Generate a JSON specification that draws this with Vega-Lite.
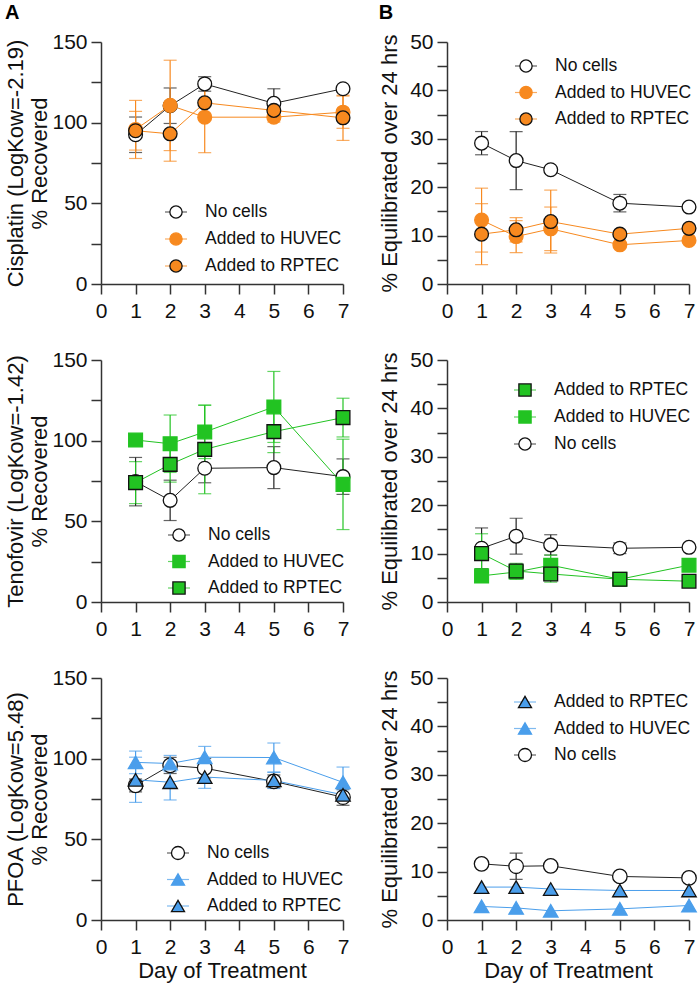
{
"$schema": "https://vega.github.io/schema/vega-lite/v6.json",
"padding": {"left": 4, "top": 3, "right": 4, "bottom": 5},
"datasets": {
"c_rec": [
{"series":"No cells","day":1,"mean":92.5,"err":11},{"series":"No cells","day":2,"mean":110.5,"err":11},{"series":"No cells","day":3,"mean":124,"err":4.5},{"series":"No cells","day":5,"mean":112,"err":9},{"series":"No cells","day":7,"mean":121,"err":0},
{"series":"Added to HUVEC","day":1,"mean":95.8,"err":18},{"series":"Added to HUVEC","day":2,"mean":110.7,"err":28},{"series":"Added to HUVEC","day":3,"mean":103.4,"err":22},{"series":"Added to HUVEC","day":5,"mean":103.4,"err":3},{"series":"Added to HUVEC","day":7,"mean":106.5,"err":10},
{"series":"Added to RPTEC","day":1,"mean":95,"err":12},{"series":"Added to RPTEC","day":2,"mean":93.1,"err":17},{"series":"Added to RPTEC","day":3,"mean":112.3,"err":11},{"series":"Added to RPTEC","day":5,"mean":107.6,"err":4},{"series":"Added to RPTEC","day":7,"mean":103,"err":14}
],
"c_eq": [
{"series":"No cells","day":1,"mean":29.1,"err":2.4},{"series":"No cells","day":2,"mean":25.5,"err":6},{"series":"No cells","day":3,"mean":23.6,"err":0},{"series":"No cells","day":5,"mean":16.7,"err":1.8},{"series":"No cells","day":7,"mean":15.9,"err":0},
{"series":"Added to HUVEC","day":1,"mean":13.2,"err":6.6},{"series":"Added to HUVEC","day":2,"mean":9.8,"err":3.3},{"series":"Added to HUVEC","day":3,"mean":11.4,"err":4.5},{"series":"Added to HUVEC","day":5,"mean":8.1,"err":0},{"series":"Added to HUVEC","day":7,"mean":9.0,"err":0},
{"series":"Added to RPTEC","day":1,"mean":10.3,"err":6.3},{"series":"Added to RPTEC","day":2,"mean":11.2,"err":2.5},{"series":"Added to RPTEC","day":3,"mean":12.9,"err":6.5},{"series":"Added to RPTEC","day":5,"mean":10.3,"err":0},{"series":"Added to RPTEC","day":7,"mean":11.5,"err":0}
],
"t_rec": [
{"series":"No cells","day":1,"mean":74.6,"err":15},{"series":"No cells","day":2,"mean":63,"err":12.5},{"series":"No cells","day":3,"mean":82.9,"err":9},{"series":"No cells","day":5,"mean":83.3,"err":13},{"series":"No cells","day":7,"mean":77.7,"err":11},
{"series":"Added to HUVEC","day":1,"mean":100.4,"err":0},{"series":"Added to HUVEC","day":2,"mean":98.1,"err":17.8},{"series":"Added to HUVEC","day":3,"mean":105.4,"err":16.5},{"series":"Added to HUVEC","day":5,"mean":120.9,"err":22},{"series":"Added to HUVEC","day":7,"mean":72.9,"err":28},
{"series":"Added to RPTEC","day":1,"mean":74,"err":13},{"series":"Added to RPTEC","day":2,"mean":85.3,"err":11},{"series":"Added to RPTEC","day":3,"mean":94.6,"err":27.5},{"series":"Added to RPTEC","day":5,"mean":105.6,"err":13},{"series":"Added to RPTEC","day":7,"mean":114.3,"err":12}
],
"t_eq": [
{"series":"No cells","day":1,"mean":11.1,"err":4.2},{"series":"No cells","day":2,"mean":13.6,"err":3.7},{"series":"No cells","day":3,"mean":11.8,"err":2.1},{"series":"No cells","day":5,"mean":11.1,"err":1.1},{"series":"No cells","day":7,"mean":11.3,"err":0},
{"series":"Added to HUVEC","day":1,"mean":5.4,"err":1.2},{"series":"Added to HUVEC","day":2,"mean":6.2,"err":1.5},{"series":"Added to HUVEC","day":3,"mean":7.6,"err":2.1},{"series":"Added to HUVEC","day":5,"mean":4.7,"err":0},{"series":"Added to HUVEC","day":7,"mean":7.6,"err":0},
{"series":"Added to RPTEC","day":1,"mean":10.0,"err":4.1},{"series":"Added to RPTEC","day":2,"mean":6.4,"err":1.6},{"series":"Added to RPTEC","day":3,"mean":5.8,"err":1.7},{"series":"Added to RPTEC","day":5,"mean":4.7,"err":0},{"series":"Added to RPTEC","day":7,"mean":4.3,"err":0}
],
"p_rec": [
{"series":"No cells","day":1,"mean":83.4,"err":4},{"series":"No cells","day":2,"mean":95.8,"err":5},{"series":"No cells","day":3,"mean":94.1,"err":6},{"series":"No cells","day":5,"mean":85.9,"err":4},{"series":"No cells","day":7,"mean":76.1,"err":5},
{"series":"Added to HUVEC","day":1,"mean":97.7,"err":7},{"series":"Added to HUVEC","day":2,"mean":97,"err":5},{"series":"Added to HUVEC","day":3,"mean":100.9,"err":6.7},{"series":"Added to HUVEC","day":5,"mean":100.7,"err":9},{"series":"Added to HUVEC","day":7,"mean":85.3,"err":9.5},
{"series":"Added to RPTEC","day":1,"mean":86.9,"err":14},{"series":"Added to RPTEC","day":2,"mean":85.4,"err":11},{"series":"Added to RPTEC","day":3,"mean":88.6,"err":7},{"series":"Added to RPTEC","day":5,"mean":86.5,"err":5},{"series":"Added to RPTEC","day":7,"mean":77.6,"err":3}
],
"p_eq": [
{"series":"No cells","day":1,"mean":11.6,"err":0},{"series":"No cells","day":2,"mean":11.1,"err":2.7},{"series":"No cells","day":3,"mean":11.2,"err":0},{"series":"No cells","day":5,"mean":9.0,"err":0},{"series":"No cells","day":7,"mean":8.7,"err":0},
{"series":"Added to HUVEC","day":1,"mean":2.8,"err":0},{"series":"Added to HUVEC","day":2,"mean":2.5,"err":0},{"series":"Added to HUVEC","day":3,"mean":1.9,"err":0},{"series":"Added to HUVEC","day":5,"mean":2.3,"err":0},{"series":"Added to HUVEC","day":7,"mean":3.0,"err":0},
{"series":"Added to RPTEC","day":1,"mean":6.8,"err":0},{"series":"Added to RPTEC","day":2,"mean":6.8,"err":0},{"series":"Added to RPTEC","day":3,"mean":6.4,"err":0},{"series":"Added to RPTEC","day":5,"mean":6.1,"err":0},{"series":"Added to RPTEC","day":7,"mean":6.1,"err":0}
]
},
"columns": 2,
"spacing": {"row": 76, "column": 104},
"bounds": "flush",
"concat": [
{
"width": 242, "height": 242,
"title": {"text": "A", "anchor": "start", "frame": "bounds", "fontSize": 20, "fontWeight": "bold", "color": "#000", "offset": 8},
"data": {"name": "c_rec"},
"encoding": {
"x": {"field": "day", "type": "quantitative", "scale": {"domain": [0, 7], "nice": false}, "axis": {"values": [0,1,2,3,4,5,6,7], "title": null}},
"y": {"field": "mean", "type": "quantitative", "scale": {"domain": [0, 150], "nice": false}, "axis": {"values": [0,25,50,75,100,125,150], "labelExpr": "datum.value % 50 === 0 ? datum.label : ''", "title": ["Cisplatin (LogKow=-2.19)", "% Recovered"], "titlePadding": 0}}
},
"layer": [
{"data": {"values": [{}]}, "mark": {"type": "rule", "color": "#E04040", "strokeWidth": 2.5, "strokeDash": [7, 5]}, "encoding": {"x": {"datum": 0}, "x2": {"datum": 7}, "y": {"datum": 100}}},
{"transform": [{"filter": "datum.err > 0"}], "mark": {"type": "errorbar", "ticks": true, "size": 13, "thickness": 1.2}, "encoding": {"yError": {"field": "err"}, "color": {"field": "series", "type": "nominal", "scale": {"domain": ["Added to RPTEC","Added to HUVEC","No cells"], "range": ["#F7891F","#F7891F","#222222"]}}}},
{"mark": {"type": "line", "strokeWidth": 1}, "encoding": {"color": {"field": "series", "type": "nominal", "scale": {"domain": ["Added to RPTEC","Added to HUVEC","No cells"], "range": ["#F7891F","#F7891F","#222222"]}, "legend": {"values": ["No cells","Added to HUVEC","Added to RPTEC"], "orient": "none", "legendX": 63, "legendY": 160, "title": null, "symbolType": "stroke", "symbolSize": 484, "symbolStrokeWidth": 1.2, "labelOffset": 17, "labelFontSize": 17.5, "clipHeight": 20, "rowPadding": 7, "padding": 0}}}},
{"mark": {"type": "point", "filled": true, "opacity": 1, "size": 190, "strokeWidth": 1.3}, "encoding": {
"shape": {"field": "series", "type": "nominal", "scale": {"domain": ["No cells","Added to HUVEC","Added to RPTEC"], "range": ["circle","circle","circle"]}, "legend": {"orient": "none", "legendX": 66.25, "legendY": 160, "title": null, "symbolSize": 150, "symbolStrokeWidth": 1.3, "labelExpr": "''", "labelFontSize": 17.5, "clipHeight": 20, "rowPadding": 7, "padding": 0}},
"fill": {"field": "series", "type": "nominal", "scale": {"domain": ["No cells","Added to HUVEC","Added to RPTEC"], "range": ["#FFFFFF","#F7891F","#F7891F"]}, "legend": {"orient": "none", "legendX": 66.25, "legendY": 160, "title": null, "symbolSize": 150, "symbolStrokeWidth": 1.3, "labelExpr": "''", "labelFontSize": 17.5, "clipHeight": 20, "rowPadding": 7, "padding": 0}},
"stroke": {"field": "series", "type": "nominal", "scale": {"domain": ["No cells","Added to HUVEC","Added to RPTEC"], "range": ["#111111","#F7891F","#111111"]}, "legend": {"orient": "none", "legendX": 66.25, "legendY": 160, "title": null, "symbolSize": 150, "symbolStrokeWidth": 1.3, "labelExpr": "''", "labelFontSize": 17.5, "clipHeight": 20, "rowPadding": 7, "padding": 0}}
}}
]
},
{
"width": 242, "height": 242,
"title": {"text": "B", "anchor": "start", "frame": "bounds", "fontSize": 20, "fontWeight": "bold", "color": "#000", "offset": 8},
"data": {"name": "c_eq"},
"encoding": {
"x": {"field": "day", "type": "quantitative", "scale": {"domain": [0, 7], "nice": false}, "axis": {"values": [0,1,2,3,4,5,6,7], "title": null}},
"y": {"field": "mean", "type": "quantitative", "scale": {"domain": [0, 50], "nice": false}, "axis": {"values": [0,5,10,15,20,25,30,35,40,45,50], "labelExpr": "datum.value % 10 === 0 ? datum.label : ''", "title": "% Equilibrated over 24 hrs", "titlePadding": 8}}
},
"layer": [
{"data": {"values": [{}]}, "mark": {"type": "rule", "color": "#E04040", "strokeWidth": 2.5, "strokeDash": [7, 5]}, "encoding": {"x": {"datum": 0}, "x2": {"datum": 7}, "y": {"datum": 50}}},
{"transform": [{"filter": "datum.err > 0"}], "mark": {"type": "errorbar", "ticks": true, "size": 13, "thickness": 1.2}, "encoding": {"yError": {"field": "err"}, "color": {"field": "series", "type": "nominal", "scale": {"domain": ["Added to RPTEC","Added to HUVEC","No cells"], "range": ["#F7891F","#F7891F","#222222"]}}}},
{"mark": {"type": "line", "strokeWidth": 1}, "encoding": {"color": {"field": "series", "type": "nominal", "scale": {"domain": ["Added to RPTEC","Added to HUVEC","No cells"], "range": ["#F7891F","#F7891F","#222222"]}, "legend": {"values": ["No cells","Added to HUVEC","Added to RPTEC"], "orient": "none", "legendX": 67, "legendY": 14, "title": null, "symbolType": "stroke", "symbolSize": 484, "symbolStrokeWidth": 1.2, "labelOffset": 17, "labelFontSize": 17.5, "clipHeight": 20, "rowPadding": 6.5, "padding": 0}}}},
{"mark": {"type": "point", "filled": true, "opacity": 1, "size": 190, "strokeWidth": 1.3}, "encoding": {
"shape": {"field": "series", "type": "nominal", "scale": {"domain": ["No cells","Added to HUVEC","Added to RPTEC"], "range": ["circle","circle","circle"]}, "legend": {"orient": "none", "legendX": 70.25, "legendY": 14, "title": null, "symbolSize": 150, "symbolStrokeWidth": 1.3, "labelExpr": "''", "labelFontSize": 17.5, "clipHeight": 20, "rowPadding": 6.5, "padding": 0}},
"fill": {"field": "series", "type": "nominal", "scale": {"domain": ["No cells","Added to HUVEC","Added to RPTEC"], "range": ["#FFFFFF","#F7891F","#F7891F"]}, "legend": {"orient": "none", "legendX": 70.25, "legendY": 14, "title": null, "symbolSize": 150, "symbolStrokeWidth": 1.3, "labelExpr": "''", "labelFontSize": 17.5, "clipHeight": 20, "rowPadding": 6.5, "padding": 0}},
"stroke": {"field": "series", "type": "nominal", "scale": {"domain": ["No cells","Added to HUVEC","Added to RPTEC"], "range": ["#111111","#F7891F","#111111"]}, "legend": {"orient": "none", "legendX": 70.25, "legendY": 14, "title": null, "symbolSize": 150, "symbolStrokeWidth": 1.3, "labelExpr": "''", "labelFontSize": 17.5, "clipHeight": 20, "rowPadding": 6.5, "padding": 0}}
}}
]
},
{
"width": 242, "height": 242,
"data": {"name": "t_rec"},
"encoding": {
"x": {"field": "day", "type": "quantitative", "scale": {"domain": [0, 7], "nice": false}, "axis": {"values": [0,1,2,3,4,5,6,7], "title": null}},
"y": {"field": "mean", "type": "quantitative", "scale": {"domain": [0, 150], "nice": false}, "axis": {"values": [0,25,50,75,100,125,150], "labelExpr": "datum.value % 50 === 0 ? datum.label : ''", "title": ["Tenofovir (LogKow=-1.42)", "% Recovered"], "titlePadding": 0}}
},
"layer": [
{"data": {"values": [{}]}, "mark": {"type": "rule", "color": "#E04040", "strokeWidth": 2.5, "strokeDash": [7, 5]}, "encoding": {"x": {"datum": 0}, "x2": {"datum": 7}, "y": {"datum": 100}}},
{"transform": [{"filter": "datum.err > 0"}], "mark": {"type": "errorbar", "ticks": true, "size": 13, "thickness": 1.2}, "encoding": {"yError": {"field": "err"}, "color": {"field": "series", "type": "nominal", "scale": {"domain": ["Added to RPTEC","Added to HUVEC","No cells"], "range": ["#22C322","#22C322","#222222"]}}}},
{"mark": {"type": "line", "strokeWidth": 1}, "encoding": {"color": {"field": "series", "type": "nominal", "scale": {"domain": ["Added to RPTEC","Added to HUVEC","No cells"], "range": ["#22C322","#22C322","#222222"]}, "legend": {"values": ["No cells","Added to HUVEC","Added to RPTEC"], "orient": "none", "legendX": 66, "legendY": 165, "title": null, "symbolType": "stroke", "symbolSize": 484, "symbolStrokeWidth": 1.2, "labelOffset": 17, "labelFontSize": 17.5, "clipHeight": 20, "rowPadding": 6.5, "padding": 0}}}},
{"mark": {"type": "point", "filled": true, "opacity": 1, "size": 190, "strokeWidth": 1.3}, "encoding": {
"shape": {"field": "series", "type": "nominal", "scale": {"domain": ["No cells","Added to HUVEC","Added to RPTEC"], "range": ["circle","square","square"]}, "legend": {"orient": "none", "legendX": 69.25, "legendY": 165, "title": null, "symbolSize": 150, "symbolStrokeWidth": 1.3, "labelExpr": "''", "labelFontSize": 17.5, "clipHeight": 20, "rowPadding": 6.5, "padding": 0}},
"fill": {"field": "series", "type": "nominal", "scale": {"domain": ["No cells","Added to HUVEC","Added to RPTEC"], "range": ["#FFFFFF","#22C322","#22C322"]}, "legend": {"orient": "none", "legendX": 69.25, "legendY": 165, "title": null, "symbolSize": 150, "symbolStrokeWidth": 1.3, "labelExpr": "''", "labelFontSize": 17.5, "clipHeight": 20, "rowPadding": 6.5, "padding": 0}},
"stroke": {"field": "series", "type": "nominal", "scale": {"domain": ["No cells","Added to HUVEC","Added to RPTEC"], "range": ["#111111","#22C322","#111111"]}, "legend": {"orient": "none", "legendX": 69.25, "legendY": 165, "title": null, "symbolSize": 150, "symbolStrokeWidth": 1.3, "labelExpr": "''", "labelFontSize": 17.5, "clipHeight": 20, "rowPadding": 6.5, "padding": 0}}
}}
]
},
{
"width": 242, "height": 242,
"data": {"name": "t_eq"},
"encoding": {
"x": {"field": "day", "type": "quantitative", "scale": {"domain": [0, 7], "nice": false}, "axis": {"values": [0,1,2,3,4,5,6,7], "title": null}},
"y": {"field": "mean", "type": "quantitative", "scale": {"domain": [0, 50], "nice": false}, "axis": {"values": [0,5,10,15,20,25,30,35,40,45,50], "labelExpr": "datum.value % 10 === 0 ? datum.label : ''", "title": "% Equilibrated over 24 hrs", "titlePadding": 8}}
},
"layer": [
{"data": {"values": [{}]}, "mark": {"type": "rule", "color": "#E04040", "strokeWidth": 2.5, "strokeDash": [7, 5]}, "encoding": {"x": {"datum": 0}, "x2": {"datum": 7}, "y": {"datum": 50}}},
{"transform": [{"filter": "datum.err > 0"}], "mark": {"type": "errorbar", "ticks": true, "size": 13, "thickness": 1.2}, "encoding": {"yError": {"field": "err"}, "color": {"field": "series", "type": "nominal", "scale": {"domain": ["No cells","Added to HUVEC","Added to RPTEC"], "range": ["#222222","#22C322","#22C322"]}}}},
{"mark": {"type": "line", "strokeWidth": 1}, "encoding": {"color": {"field": "series", "type": "nominal", "scale": {"domain": ["No cells","Added to HUVEC","Added to RPTEC"], "range": ["#222222","#22C322","#22C322"]}, "legend": {"values": ["Added to RPTEC","Added to HUVEC","No cells"], "orient": "none", "legendX": 66, "legendY": 20, "title": null, "symbolType": "stroke", "symbolSize": 484, "symbolStrokeWidth": 1.2, "labelOffset": 17, "labelFontSize": 17.5, "clipHeight": 20, "rowPadding": 7, "padding": 0}}}},
{"mark": {"type": "point", "filled": true, "opacity": 1, "size": 190, "strokeWidth": 1.3}, "encoding": {
"shape": {"field": "series", "type": "nominal", "scale": {"domain": ["Added to RPTEC","Added to HUVEC","No cells"], "range": ["square","square","circle"]}, "legend": {"orient": "none", "legendX": 69.25, "legendY": 20, "title": null, "symbolSize": 150, "symbolStrokeWidth": 1.3, "labelExpr": "''", "labelFontSize": 17.5, "clipHeight": 20, "rowPadding": 7, "padding": 0}},
"fill": {"field": "series", "type": "nominal", "scale": {"domain": ["Added to RPTEC","Added to HUVEC","No cells"], "range": ["#22C322","#22C322","#FFFFFF"]}, "legend": {"orient": "none", "legendX": 69.25, "legendY": 20, "title": null, "symbolSize": 150, "symbolStrokeWidth": 1.3, "labelExpr": "''", "labelFontSize": 17.5, "clipHeight": 20, "rowPadding": 7, "padding": 0}},
"stroke": {"field": "series", "type": "nominal", "scale": {"domain": ["Added to RPTEC","Added to HUVEC","No cells"], "range": ["#111111","#22C322","#111111"]}, "legend": {"orient": "none", "legendX": 69.25, "legendY": 20, "title": null, "symbolSize": 150, "symbolStrokeWidth": 1.3, "labelExpr": "''", "labelFontSize": 17.5, "clipHeight": 20, "rowPadding": 7, "padding": 0}}
}}
]
},
{
"width": 242, "height": 242,
"data": {"name": "p_rec"},
"encoding": {
"x": {"field": "day", "type": "quantitative", "scale": {"domain": [0, 7], "nice": false}, "axis": {"values": [0,1,2,3,4,5,6,7], "title": "Day of Treatment", "titlePadding": 3}},
"y": {"field": "mean", "type": "quantitative", "scale": {"domain": [0, 150], "nice": false}, "axis": {"values": [0,25,50,75,100,125,150], "labelExpr": "datum.value % 50 === 0 ? datum.label : ''", "title": ["PFOA (LogKow=5.48)", "% Recovered"], "titlePadding": 0}}
},
"layer": [
{"data": {"values": [{}]}, "mark": {"type": "rule", "color": "#E04040", "strokeWidth": 2.5, "strokeDash": [7, 5]}, "encoding": {"x": {"datum": 0}, "x2": {"datum": 7}, "y": {"datum": 100}}},
{"transform": [{"filter": "datum.err > 0"}], "mark": {"type": "errorbar", "ticks": true, "size": 13, "thickness": 1.2}, "encoding": {"yError": {"field": "err"}, "color": {"field": "series", "type": "nominal", "scale": {"domain": ["Added to RPTEC","Added to HUVEC","No cells"], "range": ["#4A9EEB","#4A9EEB","#222222"]}}}},
{"mark": {"type": "line", "strokeWidth": 1}, "encoding": {"color": {"field": "series", "type": "nominal", "scale": {"domain": ["Added to RPTEC","Added to HUVEC","No cells"], "range": ["#4A9EEB","#4A9EEB","#222222"]}, "legend": {"values": ["No cells","Added to HUVEC","Added to RPTEC"], "orient": "none", "legendX": 65, "legendY": 165, "title": null, "symbolType": "stroke", "symbolSize": 484, "symbolStrokeWidth": 1.2, "labelOffset": 17, "labelFontSize": 17.5, "clipHeight": 20, "rowPadding": 6.5, "padding": 0}}}},
{"mark": {"type": "point", "filled": true, "opacity": 1, "size": 210, "strokeWidth": 1.3}, "encoding": {
"shape": {"field": "series", "type": "nominal", "scale": {"domain": ["No cells","Added to HUVEC","Added to RPTEC"], "range": ["circle","triangle-up","triangle-up"]}, "legend": {"orient": "none", "legendX": 68.25, "legendY": 165, "title": null, "symbolSize": 170, "symbolStrokeWidth": 1.3, "labelExpr": "''", "labelFontSize": 17.5, "clipHeight": 20, "rowPadding": 6.5, "padding": 0}},
"fill": {"field": "series", "type": "nominal", "scale": {"domain": ["No cells","Added to HUVEC","Added to RPTEC"], "range": ["#FFFFFF","#4A9EEB","#4A9EEB"]}, "legend": {"orient": "none", "legendX": 68.25, "legendY": 165, "title": null, "symbolSize": 170, "symbolStrokeWidth": 1.3, "labelExpr": "''", "labelFontSize": 17.5, "clipHeight": 20, "rowPadding": 6.5, "padding": 0}},
"stroke": {"field": "series", "type": "nominal", "scale": {"domain": ["No cells","Added to HUVEC","Added to RPTEC"], "range": ["#111111","#4A9EEB","#111111"]}, "legend": {"orient": "none", "legendX": 68.25, "legendY": 165, "title": null, "symbolSize": 170, "symbolStrokeWidth": 1.3, "labelExpr": "''", "labelFontSize": 17.5, "clipHeight": 20, "rowPadding": 6.5, "padding": 0}}
}}
]
},
{
"width": 242, "height": 242,
"data": {"name": "p_eq"},
"encoding": {
"x": {"field": "day", "type": "quantitative", "scale": {"domain": [0, 7], "nice": false}, "axis": {"values": [0,1,2,3,4,5,6,7], "title": "Day of Treatment", "titlePadding": 3}},
"y": {"field": "mean", "type": "quantitative", "scale": {"domain": [0, 50], "nice": false}, "axis": {"values": [0,5,10,15,20,25,30,35,40,45,50], "labelExpr": "datum.value % 10 === 0 ? datum.label : ''", "title": "% Equilibrated over 24 hrs", "titlePadding": 8}}
},
"layer": [
{"data": {"values": [{}]}, "mark": {"type": "rule", "color": "#E04040", "strokeWidth": 2.5, "strokeDash": [7, 5]}, "encoding": {"x": {"datum": 0}, "x2": {"datum": 7}, "y": {"datum": 50}}},
{"transform": [{"filter": "datum.err > 0"}], "mark": {"type": "errorbar", "ticks": true, "size": 13, "thickness": 1.2}, "encoding": {"yError": {"field": "err"}, "color": {"field": "series", "type": "nominal", "scale": {"domain": ["No cells","Added to HUVEC","Added to RPTEC"], "range": ["#222222","#4A9EEB","#4A9EEB"]}}}},
{"mark": {"type": "line", "strokeWidth": 1}, "encoding": {"color": {"field": "series", "type": "nominal", "scale": {"domain": ["No cells","Added to HUVEC","Added to RPTEC"], "range": ["#222222","#4A9EEB","#4A9EEB"]}, "legend": {"values": ["Added to RPTEC","Added to HUVEC","No cells"], "orient": "none", "legendX": 66, "legendY": 14, "title": null, "symbolType": "stroke", "symbolSize": 484, "symbolStrokeWidth": 1.2, "labelOffset": 17, "labelFontSize": 17.5, "clipHeight": 20, "rowPadding": 6.5, "padding": 0}}}},
{"mark": {"type": "point", "filled": true, "opacity": 1, "size": 210, "strokeWidth": 1.3}, "encoding": {
"shape": {"field": "series", "type": "nominal", "scale": {"domain": ["Added to RPTEC","Added to HUVEC","No cells"], "range": ["triangle-up","triangle-up","circle"]}, "legend": {"orient": "none", "legendX": 69.25, "legendY": 14, "title": null, "symbolSize": 170, "symbolStrokeWidth": 1.3, "labelExpr": "''", "labelFontSize": 17.5, "clipHeight": 20, "rowPadding": 6.5, "padding": 0}},
"fill": {"field": "series", "type": "nominal", "scale": {"domain": ["Added to RPTEC","Added to HUVEC","No cells"], "range": ["#4A9EEB","#4A9EEB","#FFFFFF"]}, "legend": {"orient": "none", "legendX": 69.25, "legendY": 14, "title": null, "symbolSize": 170, "symbolStrokeWidth": 1.3, "labelExpr": "''", "labelFontSize": 17.5, "clipHeight": 20, "rowPadding": 6.5, "padding": 0}},
"stroke": {"field": "series", "type": "nominal", "scale": {"domain": ["Added to RPTEC","Added to HUVEC","No cells"], "range": ["#111111","#4A9EEB","#111111"]}, "legend": {"orient": "none", "legendX": 69.25, "legendY": 14, "title": null, "symbolSize": 170, "symbolStrokeWidth": 1.3, "labelExpr": "''", "labelFontSize": 17.5, "clipHeight": 20, "rowPadding": 6.5, "padding": 0}}
}}
]
}
],
"resolve": {
"scale": {"color": "independent", "fill": "independent", "stroke": "independent", "shape": "independent", "x": "independent", "y": "independent"},
"legend": {"color": "independent", "fill": "independent", "stroke": "independent", "shape": "independent"}
},
"config": {
"font": "Liberation Sans",
"view": {"stroke": null},
"axis": {"labelFontSize": 21, "titleFontSize": 22, "titleFontWeight": "normal", "labelColor": "#111111", "titleColor": "#111111", "domainColor": "#333333", "tickColor": "#333333", "domainWidth": 1.5, "tickWidth": 1.5, "tickSize": 10, "labelPadding": 4, "grid": false, "labelFlush": false, "labelOverlap": false, "titleLineHeight": 24},
"axisX": {"labelPadding": 6},
"legend": {"labelColor": "#111111", "labelFont": "Liberation Sans"}
}
}
